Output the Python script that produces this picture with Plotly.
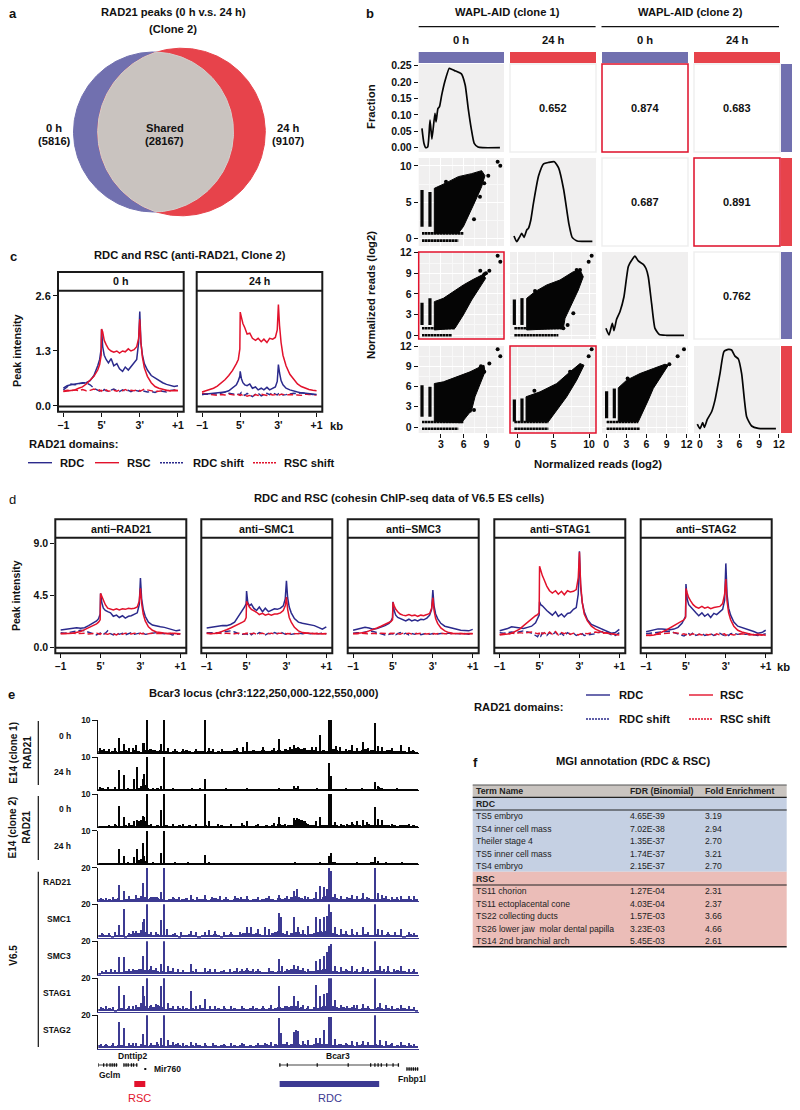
import numpy as np
import plotly.graph_objects as go

FONT = "Liberation Sans"
BLUE, RED = "#2B2A8C", "#E2122C"
SBLUE, SRED = "#7170AF", "#E7434B"
INK = "#111111"
TRACKBLUE = "#3C3A92"

# ---------- panel a ----------
VENN_ONLY_A, VENN_SHARED, VENN_ONLY_B = 5816, 28167, 9107

# ---------- panel b: correlations ----------
CORR = {(0, 1): "0.652", (0, 2): "0.874", (0, 3): "0.683", (1, 2): "0.687", (1, 3): "0.891", (2, 3): "0.762"}
RED_BOXES = [(0, 2), (1, 3), (2, 0), (3, 1)]

# densities
D1_X = [.48,.75,1.0,1.25,1.55,1.8,2.2,2.35,2.6,2.8,3.1,3.5,4.1,4.4,4.8,5.7,6.2,6.6,7.0,7.4,7.9,8.5,10.8]
D1_Y = [.059,.013,0,.003,.084,.026,.105,.079,.12,.125,.161,.201,.242,.239,.235,.225,.191,.12,.059,.013,.002,0,0]
D2_X = [-.52,-.14,.24,.57,.9,1.27,1.5,1.84,2.22,2.92,3.63,4.34,5.14,5.75,6.45,7.17,7.64,8.35,10.47]
D2_Y = [.28,-.51,.09,.65,.09,1.11,1.34,2.5,4.9,8.6,10.3,10.5,10.6,9.7,6.7,2.0,.09,-.42,-.46]
D3_X = [-.05,.4,.9,1.15,1.54,2.04,2.64,3.29,3.79,4.28,4.78,5.53,5.93,6.27,6.77,7.27,7.92,9.01,11.6]
D3_Y = [1.02,.05,1.74,.68,2.32,3.43,5.6,10.0,10.9,11.5,10.8,10.3,9.7,8.5,4.6,1.0,.1,0,0]
D4_X = [-.41,0,.41,.66,1.11,1.77,2.28,3.04,3.65,4.3,4.81,5.32,5.82,6.33,7.09,7.85,8.86,11.54]
D4_Y = [.44,-.25,.64,-.05,1.13,2.26,3.98,7.92,11.2,11.5,11.4,10.5,10.1,7.92,1.53,.15,-.2,-.25]

# scatter clouds: outline, dense left columns, dense low rows, outliers
S21 = dict(bx=[2.12,2.12,3.75,5.29,7.06,8.38,8.82,8.38,7.5,6.62,5.96,5.29],
           by=[.65,6.9,7.69,8.52,8.94,9.35,8.66,7.13,5.05,3.19,1.57,.65],
           cols=[(.49,1.57,6.67),(1.54,1.57,6.4)], rows=[(.65,.49,5.96),(-.37,.49,5.29)],
           ox=[10.5,10.85,3.66,9.26,8.73,8.16,7.37], oy=[10.6,10.05,7.82,8.66,7.59,5.74,2.59])
S31 = dict(bx=[2.12,2.12,3.31,4.63,5.96,7.28,8.6,8.91,8.16,7.06,5.96,5.07,4.85],
           by=[.77,4.89,5.37,6.34,7.31,8.13,8.85,8.27,7.06,5.13,2.95,1.5,1.02],
           cols=[(.49,1.5,4.74),(1.54,1.5,5.37)], rows=[(1.02,.49,4.85),(0,.49,4.41)],
           ox=[10.5,10.85,8.2,9.4,8.73,8.95], oy=[11.56,10.69,9.39,9.39,8.85,9.0])
S41 = dict(bx=[2.12,2.12,3.31,5.07,6.84,8.16,8.69,8.82,8.16,7.5,7.06,5.96,5.73],
           by=[.79,6.44,6.69,7.43,8.17,8.9,9.15,8.17,6.44,4.48,2.51,1.03,.64],
           cols=[(.49,1.52,6.2),(1.54,1.52,5.95)], rows=[(.74,.49,5.96),(-.25,.49,5.29)],
           ox=[10.5,10.85,9.4,8.73,8.29,7.37,6.84], oy=[11.51,10.48,9.4,8.17,9.0,2.51,2.41])
S32 = dict(bx=[1.26,1.26,2.43,4.07,5.93,7.8,8.74,9.2,8.5,7.57,6.64,6.4],
           by=[.77,5.37,6.34,7.31,8.03,9.24,9.48,8.51,6.58,4.64,2.47,1.02],
           cols=[(-.47,1.5,5.2),(.6,1.5,5.4)], rows=[(1.02,-.47,6.4),(0,-.47,5.7)],
           ox=[10.37,9.95,8.27,8.74,2.43,7.8,7.0,6.4], oy=[11.56,10.69,9.48,9.48,6.43,3.19,1.5,1.02])
S42 = dict(bx=[1.17,1.17,3.13,5.47,7.34,8.74,9.3,8.27,6.87,5.47,4.3],
           by=[.79,4.48,5.21,6.44,8.17,9.4,9.15,6.94,4.48,2.51,.79],
           cols=[(-.47,.8,4.08),(.6,.8,4.23)], rows=[(.74,-.47,4.3),(-.25,-.47,4.3)],
           ox=[10.37,9.95,2.34,7.34], oy=[11.51,10.48,5.36,8.17])
S43 = dict(bx=[1.79,1.79,3.04,5.03,7.02,8.76,9.26,8.27,7.02,6.27,5.03,4.78],
           by=[.79,5.8,6.94,7.92,8.66,9.3,9.15,7.67,5.71,3.98,1.52,.79],
           cols=[(.05,1.3,5.3),(1.2,1.3,5.7)], rows=[(.74,.05,4.78),(-.25,.05,5.03)],
           ox=[11.6,10.65,9.41,3.19], oy=[11.51,10.48,9.3,7.18])

# ---------- panels c, d: profile curves on a shared position grid ----------
XG = [0,.1,.2,.3,.4,.5,.6,.7,.8,.9,.95,.99,1.0,1.03,1.07,1.12,1.18,1.25,1.32,1.4,1.47,1.55,1.62,1.7,1.77,1.85,1.92,1.97,2.0,2.03,2.07,2.12,2.2,2.3,2.4,2.5,2.6,2.7,2.8,2.9,3.0]
C0_RDC = [.42,.48,.5,.52,.53,.54,.55,.6,.72,.95,1.1,1.35,1.81,1.4,1.2,1.1,1.02,1.12,.95,1.0,.88,.82,.92,.85,.93,1.0,1.1,1.5,2.23,1.5,1.2,1.0,.85,.72,.66,.6,.55,.51,.48,.46,.48]
C0_RSC = [.34,.35,.36,.38,.42,.45,.52,.6,.7,.85,.98,1.2,1.82,1.75,1.55,1.45,1.35,1.3,1.27,1.3,1.25,1.3,1.28,1.35,1.3,1.33,1.4,1.6,2.05,1.5,1.15,.9,.7,.55,.46,.42,.39,.37,.36,.36,.36]
C0_RDCS = [.38,.46,.52,.5,.53,.55,.55,.5,.42,.36,.35,.34,.34,.35,.39,.36,.35,.38,.4,.36,.34,.38,.35,.37,.34,.38,.36,.35,.37,.34,.36,.35,.33,.34,.32,.36,.34,.33,.37,.38,.36]
C0_RSCS = [.35,.37,.36,.38,.36,.39,.36,.37,.4,.36,.38,.35,.37,.36,.34,.38,.35,.36,.37,.35,.38,.36,.39,.35,.37,.36,.38,.37,.35,.36,.38,.4,.38,.36,.34,.35,.36,.37,.36,.38,.37]
C24_RDC = [.27,.28,.29,.3,.31,.33,.33,.36,.42,.5,.6,.7,.82,.65,.55,.5,.48,.52,.42,.45,.38,.42,.38,.44,.38,.42,.45,.58,.98,.78,.6,.5,.42,.38,.35,.33,.31,.3,.28,.28,.27]
C24_RSC = [.33,.36,.38,.42,.47,.54,.62,.72,.84,1.0,1.1,1.35,2.22,2.1,1.95,1.85,1.7,1.72,1.6,1.55,1.6,1.52,1.58,1.5,1.6,1.58,1.62,1.8,2.4,1.9,1.5,1.2,.95,.75,.62,.52,.46,.42,.39,.37,.36]
C24_RDCS = [.27,.28,.27,.29,.28,.3,.33,.3,.28,.27,.28,.26,.29,.32,.28,.25,.3,.26,.22,.28,.3,.24,.26,.3,.27,.32,.28,.26,.29,.27,.29,.26,.27,.28,.3,.29,.31,.3,.29,.27,.28]
C24_RSCS = [.3,.29,.27,.26,.25,.27,.26,.28,.27,.25,.27,.26,.25,.27,.24,.26,.23,.25,.22,.27,.25,.28,.26,.25,.28,.26,.27,.29,.27,.26,.28,.27,.26,.27,.27,.26,.25,.28,.27,.27,.26]

D1_RDC = [1.52,1.58,1.65,1.7,1.72,1.68,1.72,1.9,2.1,2.3,2.5,2.9,4.67,3.9,3.4,3.2,3.1,3.0,2.7,2.8,2.6,2.75,2.55,2.7,2.75,2.85,3.0,3.7,6.0,4.2,3.3,2.7,2.2,1.95,1.85,1.8,1.75,1.65,1.55,1.45,1.52]
D1_RSC = [1.23,1.2,1.22,1.25,1.3,1.4,1.55,1.7,1.85,2.05,2.2,2.4,4.67,4.4,4.0,3.7,3.4,3.3,3.25,3.35,3.25,3.35,3.3,3.4,3.35,3.4,3.5,4.0,5.1,3.8,2.9,2.3,1.8,1.5,1.35,1.3,1.22,1.2,1.25,1.2,1.2]
D1_RDCS = [1.3,1.25,1.3,1.35,1.45,1.5,1.45,1.35,1.2,1.1,1.2,1.25,1.2,1.3,1.15,1.25,1.45,1.2,1.1,1.3,1.15,1.25,1.1,1.2,1.3,1.15,1.2,1.25,1.15,1.2,1.25,1.15,1.2,1.25,1.3,1.25,1.2,1.25,1.1,1.15,1.2]
D1_RSCS = [1.2,1.22,1.18,1.25,1.2,1.22,1.25,1.18,1.22,1.25,1.2,1.15,1.22,1.18,1.25,1.2,1.15,1.25,1.2,1.1,1.25,1.15,1.25,1.2,1.18,1.25,1.2,1.18,1.25,1.2,1.22,1.18,1.2,1.25,1.22,1.2,1.18,1.22,1.25,1.2,1.18]
D2_RDC = [1.7,1.75,1.85,1.9,1.92,1.9,2.0,2.2,2.7,3.2,3.5,3.8,4.87,3.9,3.6,3.75,3.4,3.2,3.5,3.1,3.4,3.1,3.2,3.35,3.3,3.4,3.6,4.2,5.75,4.3,3.5,3.0,2.5,2.2,2.1,2.05,2.0,1.9,1.75,1.6,1.8]
D2_RSC = [1.23,1.22,1.23,1.3,1.4,1.55,1.7,1.85,2.05,2.2,2.3,2.6,4.0,3.7,3.5,3.3,3.2,3.05,2.85,2.95,2.8,2.9,2.8,2.9,2.9,3.0,3.2,3.6,4.35,3.3,2.6,2.2,1.75,1.45,1.3,1.25,1.22,1.2,1.2,1.22,1.2]
D2_RDCS = [1.3,1.3,1.25,1.3,1.35,1.4,1.45,1.35,1.2,1.15,1.2,1.25,1.2,1.15,1.3,1.1,1.25,1.15,1.3,1.2,1.1,1.25,1.15,1.3,1.2,1.35,1.2,1.15,1.2,1.25,1.2,1.15,1.2,1.25,1.2,1.25,1.2,1.25,1.2,1.25,1.2]
D2_RSCS = [1.25,1.2,1.22,1.25,1.2,1.25,1.22,1.2,1.25,1.22,1.18,1.25,1.2,1.25,1.15,1.2,1.25,1.15,1.22,1.25,1.15,1.2,1.25,1.18,1.22,1.25,1.2,1.25,1.18,1.22,1.2,1.25,1.22,1.2,1.25,1.22,1.2,1.22,1.25,1.2,1.22]
D3_RDC = [1.5,1.6,1.7,1.75,1.7,1.6,1.65,1.75,1.9,2.1,2.3,2.6,3.95,3.2,2.8,2.6,2.5,2.4,2.3,2.45,2.3,2.4,2.3,2.45,2.4,2.55,2.8,3.3,4.95,3.6,2.9,2.5,2.1,1.85,1.75,1.65,1.6,1.5,1.48,1.45,1.58]
D3_RSC = [1.2,1.22,1.25,1.3,1.45,1.55,1.7,1.85,2.0,2.15,2.25,2.4,3.9,3.6,3.3,3.1,2.9,2.8,2.75,2.85,2.75,2.8,2.7,2.8,2.75,2.85,2.95,3.4,4.3,3.2,2.5,2.1,1.7,1.45,1.3,1.25,1.22,1.2,1.2,1.22,1.2]
D3_RDCS = [1.25,1.3,1.28,1.35,1.42,1.4,1.32,1.2,1.1,1.15,1.2,1.22,1.18,1.28,1.12,1.2,1.3,1.15,1.25,1.1,1.22,1.15,1.28,1.12,1.2,1.25,1.15,1.2,1.22,1.15,1.2,1.18,1.22,1.2,1.25,1.22,1.18,1.2,1.22,1.15,1.2]
D3_RSCS = [1.22,1.2,1.25,1.22,1.18,1.24,1.2,1.25,1.22,1.2,1.24,1.18,1.22,1.25,1.18,1.22,1.15,1.25,1.2,1.25,1.18,1.22,1.2,1.25,1.2,1.18,1.22,1.25,1.2,1.22,1.18,1.22,1.25,1.2,1.22,1.18,1.2,1.22,1.2,1.18,1.22]
D4_RDC = [1.46,1.55,1.65,1.8,1.75,1.7,1.65,1.75,1.85,2.15,2.5,2.8,3.95,3.7,3.6,3.4,3.2,3.0,2.8,3.1,2.7,2.9,2.65,2.95,3.0,3.3,3.45,4.6,8.3,5.2,3.9,3.1,2.4,2.0,1.85,1.75,1.6,1.4,1.25,1.3,1.58]
D4_RSC = [1.09,1.12,1.18,1.25,1.4,1.6,1.9,2.2,2.5,2.75,2.85,3.0,7.0,6.6,6.2,5.8,5.3,4.9,4.7,4.9,4.6,4.85,4.55,4.9,4.8,4.85,5.0,6.0,8.2,5.5,3.9,2.9,2.3,1.85,1.6,1.45,1.3,1.25,1.22,1.15,1.1]
D4_RDCS = [1.3,1.25,1.3,1.35,1.3,1.4,1.45,1.35,1.25,1.05,.95,1.2,1.15,1.0,1.25,1.2,1.05,1.3,1.1,1.35,1.05,1.25,1.0,1.3,1.15,1.25,1.05,1.15,1.2,1.1,1.2,1.05,1.1,1.15,1.2,1.35,1.4,1.3,1.1,1.05,1.3]
D4_RSCS = [1.15,1.2,1.15,1.25,1.2,1.3,1.25,1.3,1.35,1.25,1.2,1.25,1.15,1.35,1.2,1.3,1.1,1.35,1.15,1.4,1.1,1.3,1.2,1.35,1.15,1.25,1.2,1.1,1.15,1.2,1.15,1.25,1.2,1.3,1.35,1.3,1.25,1.3,1.2,1.15,1.1]
D5_RDC = [1.38,1.45,1.55,1.62,1.62,1.6,1.55,1.6,1.75,2.1,2.4,2.7,5.47,4.2,3.7,3.5,3.2,3.0,2.75,3.0,2.7,2.9,2.6,2.95,2.85,3.1,3.3,4.1,7.25,4.6,3.4,2.8,2.2,1.85,1.75,1.65,1.55,1.4,1.25,1.3,1.5]
D5_RSC = [1.08,1.05,1.1,1.2,1.35,1.5,1.7,1.95,2.15,2.3,2.4,2.6,5.1,4.7,4.3,4.0,3.7,3.5,3.4,3.55,3.4,3.5,3.35,3.45,3.5,3.55,3.8,4.6,5.9,4.0,3.0,2.4,1.85,1.5,1.35,1.25,1.15,1.1,1.15,1.1,1.08]
D5_RDCS = [1.2,1.25,1.3,1.32,1.35,1.4,1.42,1.3,1.15,1.05,1.0,1.1,1.15,1.05,1.2,1.1,1.3,1.05,1.15,1.25,1.05,1.1,1.2,1.05,1.15,1.25,1.1,1.05,1.1,1.15,1.05,1.2,1.25,1.15,1.2,1.15,1.2,1.15,1.05,1.1,1.2]
D5_RSCS = [1.05,1.08,1.12,1.15,1.2,1.25,1.28,1.3,1.25,1.15,1.2,1.15,1.1,1.2,1.05,1.15,1.2,1.05,1.15,1.1,1.2,1.1,1.15,1.05,1.2,1.1,1.15,1.2,1.05,1.1,1.2,1.15,1.1,1.15,1.2,1.15,1.1,1.15,1.1,1.08,1.05]

# ---------- panel e: tracks (kb from left edge); peaks plus 3-kb background ----------
T1_KB = [2,6,10,16,20,24,29,33,36,42,43,45.6,50,59,62,66,72,80,92,100,104,108,116,130,136,140,155,165,170,180,184,187,200,204,208,216.3,218.2,223,227,232,238,243,248,253,259.4,262,266,275,284,291,295]
T1_H = [1.6,1.4,1.3,1.5,4.5,2.7,1.6,1.7,2.6,3.2,3,10,1.3,2.8,10,1.6,1.4,1.3,1.4,10,1.6,1.2,1.2,1.6,2.0,3.5,1.8,1.7,4.2,2.0,2.5,2.0,1.9,1.8,5.4,10,10,2.3,1.8,1.3,2.5,1.6,3.3,1.7,9,2.2,1.8,1.5,2.5,1.8,1.1]
T1_BG = [.7,.9,.6,.5,.8,.6,.4,.6,1.0,.7,.5,.9,.6,.5,.9,1.1,1.3,.9,.7,1.0,.6,.8,.5,.7,.6,.5,.7,.9,.6,.5,.8,.6,.7,.5,.6,.8,.5,.7,.4,.6,.8,.6,.9,.7,.5,.8,.6,.7,1.0,.8,.6,.9,.7,.6,1.0,.7,1.1,.8,1.2,1.0,1.3,1.5,1.6,1.4,1.5,1.1,.9,1.0,.8,.7,.9,.7,1.0,1.3,.9,.8,.6,.7,.9,.7,.8,.6,.9,1.2,.8,1.0,.7,.6,.8,.7,.9,1.1,.7,.8,.6,.7,.5,.8,.6,.5]
T2_KB = [2,9,16,20,24,28,33.7,36.2,41.8,43.4,45.6,52,59.3,62.1,70,88,96,99.9,120,140,170,184,187.3,205,216.3,218.2,232,247,259.4,262,280]
T2_H = [1.0,.9,.9,6.0,4.7,.8,3.4,6.9,3.5,5,10,.7,1.3,10,.6,.6,.7,3.4,.6,.6,.7,1.2,1.2,.7,8.2,4.4,.7,.7,2.5,1.2,.6]
T2_BG = [.4,.6,.5,.4,.5,.4,.3,.5,.4,.3,.5,.4,.6,1.2,1.5,.8,.5,.4,.6,.4,.3,.5,.3,.4,.3,.4,.5,.3,.4,.3,.3,.4,.3,.3,.4,.3,.4,.3,.3,.4,.3,.5,.3,.4,.3,.4,.3,.3,.4,.3,.3,.5,.4,.3,.4,.3,.4,.3,.5,.4,.5,.6,.5,.4,.5,.3,.4,.3,.3,.4,.3,.4,.5,.5,.4,.3,.4,.3,.4,.3,.3,.4,.5,.4,.4,.3,.5,.9,.7,.5,.4,.3,.4,.3,.4,.3,.3,.4,.3,.3]
T3_KB = [10,16,20,24,29,33.7,36.2,38,41.8,43.4,45.6,50,59.3,62.1,70,80,92,99.9,104,112,125,135,140,150,165,169.8,175,183.5,186,195,203.8,208,216.3,218.2,222,228,233,238,243,247.8,252,259.4,262,266,275,291]
T3_H = [.8,1.1,6.5,3.1,1.2,2.0,2.2,2,3.3,3.2,10,.9,5.2,10,1,1,.9,10,1.9,.9,.9,1.2,2.0,1,1.2,3.1,.9,2.7,2.7,1.3,2.0,3.0,10,10,1.6,1,.9,1.5,1.8,2.1,1.5,6,2.4,2.2,1.0,1.0]
T3_BG = [.3,.4,.3,.5,.4,.6,.4,.5,.7,.5,.6,.4,1.2,2.2,1.8,.8,.6,.5,.7,.5,.4,.6,.4,.5,.4,.6,.5,.4,.6,.4,.5,.4,.4,.6,.4,.5,.3,.4,.6,.4,.5,.3,.5,.4,.4,.6,.5,.4,.5,.7,.5,.4,.6,.5,.7,.5,.9,.6,.5,.6,.8,2.3,2.4,2.2,2.0,1.0,.7,.6,.5,.7,.6,.8,.9,.8,.6,.5,.7,.5,.8,.9,.6,.7,.5,.6,.9,.7,.8,.7,.6,.8,.7,.5,.6,.5,.8,.7,.6,.5,.7,.5]
T4_KB = [10,20,24,28,33.7,36.2,41.8,43.4,45.6,52,59.3,62.1,72,84,99.9,104,130,185,208,216.3,218.2,222,243,259.4,262,270,285]
T4_H = [.5,4.5,2.4,.6,2.1,4.5,6.4,2.5,10,.7,3.3,10,.7,.6,2.7,.7,.5,.7,.6,2.5,3.3,.7,.7,2.3,.9,.8,.6]
T4_BG = [.3,.3,.4,.3,.4,.3,.3,.4,.3,.4,.3,.5,1.2,1.6,1.0,.5,.4,.3,.5,.3,.3,.4,.3,.3,.4,.3,.4,.3,.3,.4,.3,.4,.3,.3,.4,.3,.3,.4,.3,.3,.3,.4,.3,.3,.4,.3,.3,.3,.4,.3,.3,.4,.3,.3,.4,.3,.4,.3,.3,.4,.4,.5,.5,.4,.3,.3,.4,.3,.3,.4,.3,.3,.4,.6,.4,.3,.4,.3,.3,.4,.4,.5,.4,.3,.5,.6,.5,.4,.4,.5,.3,.4,.3,.3,.4,.3,.3,.4,.3,.3]
T5_KB = [3,8,14,20,24,29,36,41.8,45.6,50,55,59.3,62.1,70,76,86.8,93,99.9,107,114,120,128,134,140,150,160,169.8,177,183.5,186,194,197,203.8,208,212,214.7,216.3,218.2,222,228,233,238,243,248,252,259.4,262,266,270,275,280,284,291,296]
T5_H = [2.2,2,2.5,9.8,6.4,3,4,11,20,2.5,2.6,5.5,20,2.8,2.6,4,2.5,3.6,2.8,3,2.6,3.1,2.8,3.5,2.5,3.2,4,3,6,7.3,3,2.6,5.5,9,8.5,7.5,20,18,4.5,3.2,2.8,4,3.3,5,2.9,20,5,4,3,2.8,2.5,3.4,3.2,3]
T5_BG = [1.2,1.6,1.0,1.4,1.1,1.5,1.8,1.0,1.3,1.7,1.2,1.6,2.2,3.4,2.6,1.4,1.8,2.4,1.9,1.3,1.6,1.1,1.5,1.9,1.2,1.0,1.4,1.8,1.1,1.3,1.0,1.5,1.2,1.7,1.1,1.4,1.8,1.2,1.0,1.5,1.3,1.1,1.6,1.9,1.2,1.4,1.7,1.1,1.3,1.6,1.0,1.4,1.8,1.2,1.5,1.1,1.9,1.4,2.3,1.7,2.6,3.0,2.7,1.8,1.4,1.2,1.6,2.0,1.5,1.7,2.4,3.0,3.2,2.6,2.0,1.4,1.7,1.3,1.9,1.5,1.2,1.6,1.8,1.3,2.0,1.5,1.7,1.2,1.5,1.8,1.3,1.1,1.6,1.4,1.0,1.5,1.2,1.7,1.1,1.4]
T6_KB = [4,10,16,20,24,29,33,36,41.8,43.4,45.6,50,54,59.3,62.1,65,72,78,86.8,92,100,104,110,118,125,133,140,143,150,156,160,169.8,171.7,177,183.5,187.3,192,197,203.8,208,212,214.7,216.3,218.2,222,228,232,238,243,248,253,259.4,262,266,272,278,284,291,296]
T6_H = [2.8,2.5,3,7.5,17,2.5,4,4,9,11,20,3.5,3,10.5,20,5,2.8,3,4,3,3.5,4.5,4,3,3.5,3,6.2,6,5,6,5,14.5,12,4,12.5,6,4.5,7,12,11,12,13,20,15.5,6,5,4,5.2,3.5,6.5,3.2,20,5,4.5,3.5,3,5,3.2,2.5]
T6_BG = [1.4,1.8,1.2,1.6,1.1,1.5,1.3,1.7,1.0,1.4,1.9,2.5,2.8,4.2,3.0,1.8,2.2,1.6,2.0,1.4,1.7,1.2,1.5,1.8,1.3,1.1,1.6,1.3,1.9,1.2,1.4,1.0,1.6,1.3,1.7,1.2,1.9,1.4,1.1,1.5,1.3,1.8,1.2,1.6,2.0,2.6,2.4,2.8,2.2,2.6,1.9,1.5,1.2,1.7,2.6,3.0,3.6,2.8,2.0,1.7,2.5,3.5,3.2,2.0,1.8,1.5,2.2,2.8,3.4,3.6,3.2,4.0,3.0,2.6,1.9,1.6,2.2,1.8,1.5,2.0,1.7,1.3,1.6,2.0,1.7,1.4,1.9,1.5,1.7,1.3,1.9,1.5,1.2,1.6,1.4,1.1,1.5,1.8,1.3,1.2]
T7_KB = [4,8,12,16,20,24,29,33,38,41.8,45.6,50,54,59.3,62.1,66,70,75,80,86.8,92,100,105,110,118,124,130,135,140,145,150,160,169.8,172,177,184,187,192,197,203.8,208,212,214.7,216.3,218.2,222,228,232,238,243,248,253,259.4,264,268,272,277,284,291,296]
T7_H = [2.2,2.5,3.5,2.6,10.5,10.5,3,3.4,3.5,11,20,5,4,6.5,20,5,4,3.2,2.8,6.5,3,4,3.2,3,2.7,3,3.8,3.2,4,3.5,3.4,3.6,9.5,5,3.5,5.5,5,4,3.4,8,9.5,11,13.5,17,18.5,5,4.5,3.5,4.8,3.5,4.5,3.5,20,5,3.5,5,3.2,4.8,3.5,3]
T7_BG = [1.1,1.4,1.2,1.7,1.3,1.5,1.2,1.6,1.9,2.2,1.8,2.4,2.9,3.2,2.8,2.6,3.0,2.4,1.9,1.6,2.0,1.5,1.8,1.4,1.7,1.3,1.6,1.2,1.5,1.9,1.4,1.7,1.3,1.5,1.8,1.2,1.6,1.4,1.9,1.5,1.3,1.7,2.0,1.6,2.2,1.9,2.4,2.0,1.5,1.8,2.2,1.7,1.5,2.0,1.8,1.6,1.9,1.5,2.2,2.8,3.2,3.0,2.4,2.8,1.9,1.7,2.1,1.8,2.4,2.6,3.0,3.4,2.8,2.2,1.9,1.6,2.3,2.8,2.2,1.7,1.9,1.5,2.1,1.8,1.6,2.0,2.4,2.6,2.0,1.7,1.9,1.5,2.2,2.4,1.8,2.0,1.6,1.5,1.8,1.4]
T8_KB = [3,8,14,20,24,29,33,36,41.8,43.4,45.6,50,54,59.3,62.1,66,70,75,80,86.8,92,96,100,105,110,118,125,135,145,155,162,169.8,177,184,187,192,197,203.8,208,212,214.7,216.3,218.2,222,228,233,240,243,248,253,259.4,264,270,275,284,291,296]
T8_H = [2.5,3,2.5,15,9.8,3.5,3,4,15,9,20,3.8,4.5,15,20,5,3.5,3.2,3,12.5,3.5,4,7.5,3.5,3.5,3,3.5,3,3,3.2,3.6,15,3.5,9,6,3.8,3.5,16,9.5,10.5,11,20,20,7,4,3.5,4,3.8,4.5,3.5,20,5,4,3,4,3,2.8]
T8_BG = [1.2,1.8,1.3,2.0,1.5,1.1,1.6,2.2,1.4,1.9,1.3,1.7,2.4,5.0,3.2,2.2,3.4,2.8,3.6,3.0,2.4,1.6,1.9,1.4,1.7,2.0,1.3,1.8,1.5,2.1,1.6,1.3,1.9,1.4,1.7,1.2,1.6,2.0,1.3,1.8,1.5,1.2,1.9,1.4,1.7,2.1,1.5,2.0,1.3,1.8,1.5,2.2,1.6,2.0,1.4,1.9,2.4,1.8,3.0,2.4,3.4,3.0,2.2,2.6,1.7,2.0,1.6,2.4,2.0,2.8,3.4,3.0,2.6,3.0,2.4,2.0,2.6,2.2,1.8,2.4,1.9,1.6,2.2,1.8,2.0,1.5,2.2,2.6,1.9,1.5,2.0,1.6,1.3,1.8,1.5,1.9,1.2,1.6,1.3,1.1]
T9_KB = [3,8,14,20,24,29,33,36,41.8,45.6,50,55,59.3,62.1,66,70,75,80,86.8,92,100,108,118,125,135,150,156,162,169.8,171.7,177,183.5,185.5,187.3,192,197,203.8,208,212,216.3,218.2,222,232,238,243,248,253,259.4,264,270,275,284,291,296]
T9_H = [2.8,2.6,3,16,12.5,3,3.2,3.5,8.5,20,3.5,4,6.5,20,5,4,3.2,3,3.8,3,3.5,3,2.8,3,3,3,3.5,3.6,18.5,9,4,10,11,10.5,4.2,5,6,6.5,11,19,19,5.5,3.5,4.5,4,4.5,3.8,20,5,4.2,3.5,4,3,2.8]
T9_BG = [1.8,1.3,2.0,1.6,2.2,1.5,1.9,2.3,1.6,1.4,2.1,1.7,1.5,2.6,1.9,1.6,2.2,1.8,2.4,1.7,2.0,1.5,2.3,1.8,2.6,1.9,1.5,2.2,1.7,2.0,1.6,1.9,1.4,2.1,1.7,1.5,2.0,1.6,1.8,2.3,1.7,1.4,2.0,1.6,1.9,2.4,1.7,2.1,1.5,1.8,2.2,1.9,2.6,2.1,1.7,2.4,2.0,2.8,2.4,2.2,2.8,2.6,2.4,2.0,2.6,1.9,2.2,2.6,3.0,2.4,2.8,2.6,2.2,2.0,1.8,2.4,2.0,2.6,1.9,2.3,1.7,2.2,2.5,1.9,2.3,2.0,2.6,1.8,2.2,1.6,2.0,2.4,1.7,2.1,1.5,1.9,1.4,2.0,1.6,1.4]

# genes (kb)
GENE_SPANS = {"Gclm": (0, 18), "Dnttip2": (24, 36.5), "Bcar3": (169.8, 281), "Fnbp1l": (289, 300)}
GENE_EXONS = {"Gclm": [0,5,8,11,13,15,17], "Dnttip2": [24,26,28,31,33,36],
              "Bcar3": [170,177,205,234,255,259,262,265,270,276,281], "Fnbp1l": [289,291,293,295,297,299]}
MIR760_KB = [44]
RSC_DOMAIN_KB = (33.7, 44)
RDC_DOMAIN_KB = (169.8, 263)

# ---------- panel f ----------
TERMS_RDC = ["TS5 embryo", "TS4 inner cell mass", "Theiler stage 4", "TS5 inner cell mass", "TS4 embryo"]
FDR_RDC = ["4.65E-39", "7.02E-38", "1.35E-37", "1.74E-37", "2.15E-37"]
FOLD_RDC = ["3.19", "2.94", "2.70", "3.21", "2.70"]
TERMS_RSC = ["TS11 chorion", "TS11 ectoplacental cone", "TS22 collecting ducts", "TS26 lower jaw  molar dental papilla", "TS14 2nd branchial arch"]
FDR_RSC = ["1.27E-04", "4.03E-04", "1.57E-03", "3.23E-03", "5.45E-03"]
FOLD_RSC = ["2.31", "2.37", "3.66", "4.66", "2.61"]

W, H = 800, 1110
fig = go.Figure()
annos, shapes, axes = [], [], {}
n_ax = [0]
BIG = 11.2

def T(x, y, s, size=BIG, bold=True, anchor="center", angle=0, color=INK):
    annos.append(dict(x=x / W, y=1 - y / H, xref="paper", yref="paper", text=f"<b>{s}</b>" if bold else s,
                      showarrow=False, xanchor=anchor, yanchor="middle", textangle=angle,
                      font=dict(family=FONT, size=size, color=color), borderpad=0, align="center"))

def R(l, t, r, b, fill=None, line=None, lw=0, layer="below"):
    shapes.append(dict(type="rect", xref="paper", yref="paper", x0=l / W, x1=r / W, y0=1 - t / H, y1=1 - b / H,
                       fillcolor=fill or "rgba(0,0,0,0)", line=dict(color=line or "rgba(0,0,0,0)", width=lw), layer=layer))

def L(x0, y0, x1, y1, color=INK, w=1, dash="solid"):
    shapes.append(dict(type="line", xref="paper", yref="paper", x0=x0 / W, x1=x1 / W, y0=1 - y0 / H, y1=1 - y1 / H,
                       line=dict(color=color, width=w, dash=dash), layer="above"))

def AX(box, xr, yr, xo=None, yo=None):
    n_ax[0] += 1
    n = n_ax[0]
    l, t, r, b = box
    base = dict(showgrid=False, zeroline=False, showline=False, ticks="", showticklabels=False, fixedrange=True)
    xa = dict(base, domain=[l / W, r / W], range=xr, anchor=f"y{n}")
    ya = dict(base, domain=[1 - b / H, 1 - t / H], range=yr, anchor=f"x{n}")
    xa.update(xo or {})
    ya.update(yo or {})
    axes[f"xaxis{n}"] = xa
    axes[f"yaxis{n}"] = ya
    return f"x{n}", f"y{n}"

def tf(size=10.5):
    return dict(family=FONT, size=size, color=INK, weight=700)

# ========== a ==========
T(12.7, 14, "a", 13)
T(173, 12.5, "RAD21 peaks (0 h v.s. 24 h)")
T(173, 29.5, "(Clone 2)")
xa_, ya_ = AX((60, 40, 280, 224), [60, 280], [224, 40])
k = 80 / np.sqrt(VENN_ONLY_A + VENN_SHARED)
rA = k * np.sqrt(VENN_ONLY_A + VENN_SHARED)
rB = k * np.sqrt(VENN_ONLY_B + VENN_SHARED)
cA, cB, cy = 153.5, 181.5, 132
th = np.linspace(0, 2 * np.pi, 361)
ax_, ay_ = cA + rA * np.cos(th), cy + rA * np.sin(th)
bx_, by_ = cB + rB * np.cos(th), cy + rB * np.sin(th)
fig.add_trace(go.Scatter(x=ax_, y=ay_, fill="toself", fillcolor=SBLUE, mode="lines", line=dict(color=SBLUE, width=1), xaxis=xa_, yaxis=ya_))
fig.add_trace(go.Scatter(x=bx_, y=by_, fill="toself", fillcolor=SRED, mode="lines", line=dict(color=SRED, width=1), xaxis=xa_, yaxis=ya_))
inB = np.hypot(ax_ - cB, ay_ - cy) <= rB
inA = np.hypot(bx_ - cA, by_ - cy) <= rA
pts = [(x, y) for x, y in zip(ax_[inB], ay_[inB])] + [(x, y) for x, y in zip(bx_[inA], by_[inA])]
ang = [np.arctan2(y - cy, x - (cA + cB) / 2) for x, y in pts]
pts = [p for _, p in sorted(zip(ang, pts))]
fig.add_trace(go.Scatter(x=[p[0] for p in pts] + [pts[0][0]], y=[p[1] for p in pts] + [pts[0][1]], fill="toself",
                         fillcolor="#C9C3BF", mode="lines", line=dict(color="#D5D0CE", width=1), xaxis=xa_, yaxis=ya_))
T(54, 128, "0 h"); T(54, 141, f"({VENN_ONLY_A})")
T(164.5, 128, "Shared"); T(164.5, 141, f"({VENN_SHARED})")
T(288, 128, "24 h"); T(288, 141, f"({VENN_ONLY_B})")

# ========== b ==========
T(370, 14, "b", 13)
COLS = [(418.7, 504), (510, 596), (602, 688), (694, 780)]
ROWS = [(64, 152), (158, 246), (252, 339), (346, 433)]
XR = [[0.05, 11.34], [-1.08, 10.98], [-0.64, 12.2], [-0.91, 12.16]]
YR = [[-.0131, .2552], [-1.11, 11.11], [-.54, 12.1], [-.885, 12.0]]
XT = [[3, 6, 9], [0, 5, 10], [0, 3, 6, 9, 12], [0, 3, 6, 9, 12]]
YT = [[0, .05, .1, .15, .2, .25], [0, 5, 10], [0, 3, 6, 9, 12], [0, 3, 6, 9, 12]]
YTXT = [["0.00", "0.05", "0.10", "0.15", "0.20", "0.25"], ["0", "5", "10"], ["0", "3", "6", "9", "12"], ["0", "3", "6", "9", "12"]]
XM = [[1.5, 4.5, 7.5, 10.5], [2.5, 7.5], [1.5, 4.5, 7.5, 10.5], [1.5, 4.5, 7.5, 10.5]]
YM = [[], [2.5, 7.5], [1.5, 4.5, 7.5, 10.5], [1.5, 4.5, 7.5, 10.5]]
PANELBG = "#F0EFEF"
CLOUDS = {(1, 0): S21, (2, 0): S31, (3, 0): S41, (2, 1): S32, (3, 1): S42, (3, 2): S43}
DENS = {0: (D1_X, D1_Y), 1: (D2_X, D2_Y), 2: (D3_X, D3_Y), 3: (D4_X, D4_Y)}
for r, (t, b) in enumerate(ROWS):
    for c, (l, rr) in enumerate(COLS):
        white = (r, c) in CORR
        R(l, t, rr, b, "white" if white else PANELBG, "#EFEFEF" if white else None, 1.5 if white else 0)
        if r == 3:
            xo = dict(ticks="outside", ticklen=4, tickwidth=1.2, tickcolor=INK, showticklabels=True, tickfont=tf(10.5),
                      tickmode="array", tickvals=XT[c], ticktext=[str(v) for v in XT[c]], ticklabelstandoff=-3)
        else:
            xo = dict(tickmode="array", tickvals=XT[c])
        if c == 0:
            yo = dict(ticks="outside", ticklen=4, tickwidth=1.2, tickcolor=INK, showticklabels=True, tickfont=tf(10.5),
                      tickmode="array", tickvals=YT[r], ticktext=YTXT[r])
        else:
            yo = dict(tickmode="array", tickvals=YT[r])
        if (r, c) in CLOUDS:
            for o, m in ((xo, XM[c]), (yo, YM[r])):
                o.update(showgrid=True, gridcolor="white", gridwidth=1, minor=dict(tickvals=m, showgrid=True, gridcolor="#F8F8F8", gridwidth=.6, ticks=""))
        xn, yn = AX((l, t, rr, b), XR[c], YR[r], xo, yo)
        if white:
            T((l + rr) / 2, (t + b) / 2, CORR[(r, c)], 11)
        elif r == c:
            dx, dy = DENS[r]
            fig.add_trace(go.Scatter(x=dx, y=dy, mode="lines", line=dict(color="#050505", width=1.7, shape="spline", smoothing=.5), xaxis=xn, yaxis=yn))
        else:
            S = CLOUDS[(r, c)]
            for cx0, y0, y1 in S["cols"]:
                fig.add_trace(go.Scatter(x=[cx0, cx0], y=[y0, y1], mode="lines", line=dict(color="#050505", width=3.2), xaxis=xn, yaxis=yn))
            for ry, x0, x1 in S["rows"]:
                fig.add_trace(go.Scatter(x=[x0, x1], y=[ry, ry], mode="lines", line=dict(color="#050505", width=2.6, dash="2.6px,0.4px"), xaxis=xn, yaxis=yn))
            fig.add_trace(go.Scatter(x=S["bx"] + S["bx"][:1], y=S["by"] + S["by"][:1], mode="lines", fill="toself", fillcolor="#050505",
                                     line=dict(color="#050505", width=1), xaxis=xn, yaxis=yn))
            fig.add_trace(go.Scatter(x=S["ox"], y=S["oy"], mode="markers", marker=dict(color="#050505", size=4), xaxis=xn, yaxis=yn))
for i, (l, rr) in enumerate(COLS):
    R(l, 52, rr, 63, SRED if i % 2 else SBLUE, None, 0)
    T((l + rr) / 2, 40, "24 h" if i % 2 else "0 h")
for i, (t, b) in enumerate(ROWS):
    R(781, t, 792, b, SRED if i % 2 else SBLUE, None, 0)
for (r, c) in RED_BOXES:
    R(COLS[c][0], ROWS[r][0], COLS[c][1], ROWS[r][1], None, "#E2122C", 1.5, "above")
T(507, 12.5, "WAPL-AID (clone 1)")
T(690, 12.5, "WAPL-AID (clone 2)")
L(418.7, 26.7, 595.6, 26.7, INK, 1.2)
L(601.5, 26.7, 779, 26.7, INK, 1.2)
T(371, 107, "Fraction", 11.3, angle=-90)
T(371, 295, "Normalized reads (log2)", 11.3, angle=-90)
T(598, 464, "Normalized reads (log2)", 11.3)

# profile panels
def profile_panel(box_l, box_r, strip_t, strip_b, zero_y, bottom, title, curves, ytop_vals, ytxt, xr, yr, size):
    R(box_l, strip_t, box_r, bottom, "white", None, 0)
    xo = dict(ticks="outside", ticklen=4, tickwidth=1.4, tickcolor=INK, showticklabels=True, tickfont=tf(size),
              tickmode="array", tickvals=[0, 1, 2, 3], ticktext=["\u22121", "5'", "3'", "+1"])
    yo = dict(tickmode="array", tickvals=ytop_vals, ticktext=ytxt)
    if ytxt:
        yo.update(ticks="outside", ticklen=4, tickwidth=1.4, tickcolor=INK, showticklabels=True, tickfont=tf(size + .5))
    xn, yn = AX((box_l, strip_b, box_r, bottom), xr, yr, xo, yo)
    rdc, rsc, rdcs, rscs = curves
    for ys, col, dash, w in ((rdcs, BLUE, "6px,3px", 1.4), (rscs, RED, "6px,3px", 1.4), (rdc, BLUE, "solid", 1.5), (rsc, RED, "solid", 1.5)):
        fig.add_trace(go.Scatter(x=XG, y=ys, mode="lines", line=dict(color=col, width=w, dash=dash), xaxis=xn, yaxis=yn))
    R(box_l, strip_t, box_r, bottom, None, "#1A1A1A", 2, "above")
    L(box_l, strip_b, box_r, strip_b, "#1A1A1A", 2)
    L(box_l, zero_y, box_r, zero_y, "#1A1A1A", 2)
    T((box_l + box_r) / 2, (strip_t + strip_b) / 2, title, 10.7)

# ========== c ==========
T(13, 257, "c", 13)
T(190, 254.5, "RDC and RSC (anti-RAD21, Clone 2)")
profile_panel(58, 183.7, 272, 290.7, 406.5, 411.7, "0 h", (C0_RDC, C0_RSC, C0_RDCS, C0_RSCS), [0, 1.3, 2.6], ["0.0", "1.3", "2.6"], [-.14, 3.15], [-.135, 2.725], 10.5)
profile_panel(196.7, 322.3, 272, 290.7, 406.5, 411.7, "24 h", (C24_RDC, C24_RSC, C24_RDCS, C24_RSCS), [0, 1.3, 2.6], None, [-.14, 3.15], [-.135, 2.725], 10.5)
T(17, 351, "Peak intensity", 10.8, angle=-90)
T(336, 425.7, "kb")
T(28, 444, "RAD21 domains:", anchor="left")
yleg = 462.7
L(28, yleg, 52, yleg, BLUE, 1.4); T(59, yleg, "RDC", anchor="left")
L(95, yleg, 119, yleg, RED, 1.4); T(126, yleg, "RSC", anchor="left")
L(160, yleg, 183, yleg, BLUE, 1.4, "2px,1px"); T(192, yleg, "RDC shift", anchor="left")
L(253, yleg, 277, yleg, RED, 1.4, "2px,1px"); T(283, yleg, "RSC shift", anchor="left")

# ========== d ==========
T(12, 499, "d", 13, bold=False)
T(399, 498.5, "RDC and RSC (cohesin ChIP-seq data of V6.5 ES cells)")
D_NAMES = ["anti\u2212RAD21", "anti\u2212SMC1", "anti\u2212SMC3", "anti\u2212STAG1", "anti\u2212STAG2"]
D_CURVES = [(D1_RDC, D1_RSC, D1_RDCS, D1_RSCS), (D2_RDC, D2_RSC, D2_RDCS, D2_RSCS), (D3_RDC, D3_RSC, D3_RDCS, D3_RSCS),
            (D4_RDC, D4_RSC, D4_RDCS, D4_RSCS), (D5_RDC, D5_RSC, D5_RDCS, D5_RSCS)]
D_LEFT = [55.3, 201.3, 347.7, 494.3, 640.7]
for i, (nm, cv) in enumerate(zip(D_NAMES, D_CURVES)):
    profile_panel(D_LEFT[i], D_LEFT[i] + 131, 519.3, 537.7, 647.7, 653.3, nm, cv, [0, 4.5, 9], ["0.0", "4.5", "9.0"] if i == 0 else None, [-.135, 3.15], [-.48, 9.46], 10)
T(16, 596, "Peak intensity", 10.5, angle=-90)
T(783, 667, "kb")
T(472.7, 707, "RAD21 domains:", anchor="left")
L(586, 695, 610, 695, BLUE, 1.4); T(617.7, 695, "RDC", anchor="left")
L(689, 695, 713, 695, RED, 1.4); T(719, 695, "RSC", anchor="left")
L(586, 719, 610, 719, BLUE, 1.4, "2px,1px"); T(617.7, 719, "RDC shift", anchor="left")
L(689, 719, 713, 719, RED, 1.4, "2px,1px"); T(719, 719, "RSC shift", anchor="left")

# ========== e ==========
T(11, 694, "e", 13)
T(264, 692.7, "Bcar3 locus (chr3:122,250,000-122,550,000)")
TRACKS = [(T1_KB, T1_H, T1_BG, 10, "#050505"), (T2_KB, T2_H, T2_BG, 10, "#050505"), (T3_KB, T3_H, T3_BG, 10, "#050505"), (T4_KB, T4_H, T4_BG, 10, "#050505"),
          (T5_KB, T5_H, T5_BG, 20, TRACKBLUE), (T6_KB, T6_H, T6_BG, 20, TRACKBLUE), (T7_KB, T7_H, T7_BG, 20, TRACKBLUE), (T8_KB, T8_H, T8_BG, 20, TRACKBLUE), (T9_KB, T9_H, T9_BG, 20, TRACKBLUE)]
TRACK_TOP = [720, 757, 794, 830.7, 867.7, 904.3, 941.3, 978.3, 1015.3]
for (kb, hh, bg, top, col), tt in zip(TRACKS, TRACK_TOP):
    xo = dict(showline=True, linecolor=col, linewidth=1)
    yo = dict(showline=True, linecolor=INK, linewidth=1, ticks="outside", ticklen=5, tickwidth=1, tickcolor=INK,
              showticklabels=True, tickfont=tf(8.5), tickmode="array", tickvals=[top], ticktext=[str(top)])
    xn, yn = AX((98.3, tt, 418.7, tt + 33.4), [0, 300], [0, top], xo, yo)
    bins = [1.5 + 3 * i for i in range(len(bg))]
    fig.add_trace(go.Bar(x=bins, y=bg, width=3.0, marker=dict(color=col, line=dict(width=0)), xaxis=xn, yaxis=yn))
    fig.add_trace(go.Bar(x=kb, y=hh, width=1.1, marker=dict(color=col, line=dict(width=0)), xaxis=xn, yaxis=yn))
T(12.7, 753, "E14 (clone 1)", 10, angle=-90); T(27, 753, "RAD21", 10, angle=-90)
T(12.7, 827.7, "E14 (clone 2)", 10, angle=-90); T(27, 827.7, "RAD21", 10, angle=-90)
T(12.7, 955, "V6.5", 10, angle=-90)
L(38.3, 721, 38.3, 785, INK, 1.2); L(38.3, 796, 38.3, 860, INK, 1.2); L(38.3, 871.7, 38.3, 1047, INK, 1.2)
for y, s in [(735.7, "0 h"), (772, "24 h"), (809, "0 h"), (845.7, "24 h"), (882, "RAD21"), (919, "SMC1"), (956, "SMC3"), (992.7, "STAG1"), (1029.7, "STAG2")]:
    T(72, y, s, 8.5, anchor="right")
xn, yn = AX((98.3, 1052, 418.7, 1092), [0, 300], [1092, 1052])
for name, yy in (("Gclm", 1065), ("Dnttip2", 1065), ("Bcar3", 1065), ("Fnbp1l", 1069)):
    s0, s1 = GENE_SPANS[name]
    fig.add_trace(go.Scatter(x=[s0, s1], y=[yy, yy], mode="lines", line=dict(color=INK, width=.8), xaxis=xn, yaxis=yn))
    ex = GENE_EXONS[name]
    fig.add_trace(go.Scatter(x=ex, y=[yy] * len(ex), mode="markers", marker=dict(symbol="line-ns", size=2.5, line=dict(color=INK, width=1.3)), xaxis=xn, yaxis=yn))
fig.add_trace(go.Scatter(x=MIR760_KB, y=[1069], mode="markers", marker=dict(symbol="square", size=2, color=INK), xaxis=xn, yaxis=yn))
fig.add_trace(go.Scatter(x=list(RSC_DOMAIN_KB), y=[1084, 1084], mode="lines", line=dict(color="#E2122C", width=6), xaxis=xn, yaxis=yn))
fig.add_trace(go.Scatter(x=list(RDC_DOMAIN_KB), y=[1084, 1084], mode="lines", line=dict(color=TRACKBLUE, width=6), xaxis=xn, yaxis=yn))
T(133.3, 1056, "Dnttip2", 8.5); T(338, 1056, "Bcar3", 8.5)
T(98, 1075, "Gclm", 8.5, anchor="left"); T(152.7, 1069, "Mir760", 8.5, anchor="left"); T(412, 1079, "Fnbp1l", 8.5)
T(139.3, 1097.7, "RSC", 11, bold=False, color="#E2122C"); T(330, 1097.7, "RDC", 11, bold=False, color=TRACKBLUE)

# ========== f ==========
T(475, 762, "f", 13)
T(633, 761, "MGI annotation (RDC & RSC)")
TL, TRR = 472.7, 786.7
R(TL, 785, TRR, 797.3, "#C9C4C0")
R(TL, 797.3, TRR, 871.7, "#C5D0E3")
R(TL, 871.7, TRR, 946, "#EBBDB8")
L(TL, 785, TRR, 785, "#555555", 1.2)
L(TL, 797.4, TRR, 797.4, "#222222", 1.2)
L(TL, 810, TRR, 810, "#222222", 1.2)
L(TL, 885, TRR, 885, "#222222", 1.2)
L(TL, 946.7, TRR, 946.7, "#111111", 1.5)
XC = [475, 629.3, 704.3]
for x, s in zip(XC, ["Term Name", "FDR (Binomial)", "Fold Enrichment"]):
    T(x, 791, s, 8.8, anchor="left", color="#222222")
T(XC[0], 803.5, "RDC", 8.8, anchor="left", color="#222222")
T(XC[0], 878.5, "RSC", 8.8, anchor="left", color="#222222")
for i in range(5):
    y = 816 + 12.5 * i
    T(XC[0], y, TERMS_RDC[i], 8.6, bold=False, anchor="left", color="#222222")
    T(XC[1], y, FDR_RDC[i], 8.6, bold=False, anchor="left", color="#222222")
    T(XC[2], y, FOLD_RDC[i], 8.6, bold=False, anchor="left", color="#222222")
    y = 891 + 12.5 * i
    T(XC[0], y, TERMS_RSC[i], 8.6, bold=False, anchor="left", color="#222222")
    T(XC[1], y, FDR_RSC[i], 8.6, bold=False, anchor="left", color="#222222")
    T(XC[2], y, FOLD_RSC[i], 8.6, bold=False, anchor="left", color="#222222")

fig.update_layout(width=W, height=H, margin=dict(l=0, r=0, t=0, b=0, pad=0, autoexpand=False), autosize=False, showlegend=False,
                  plot_bgcolor="rgba(0,0,0,0)", paper_bgcolor="white", barmode="overlay", bargap=0,
                  annotations=annos, shapes=shapes, font=dict(family=FONT), hovermode=False, **axes)
fig.write_html("out.html", post_script="document.body.style.margin='0';document.documentElement.style.overflow='hidden';", config=dict(displayModeBar=False))
